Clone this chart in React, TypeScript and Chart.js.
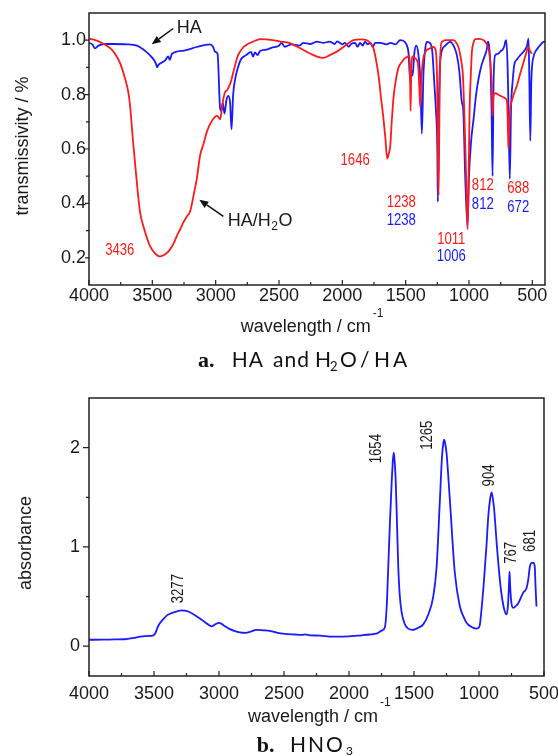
import { useEffect, useRef } from "react";
import { Chart, registerables } from "chart.js";
Chart.register(...registerables);

// ---------- (a) HA and H2O/HA : transmissivity ----------
const waterHaWavenumber = [
  4000, 3950, 3900, 3860, 3820, 3781, 3750, 3716, 3690, 3676, 3652, 3623, 3597, 3570, 3544, 3520, 3494, 3465, 3439, 3410,
  3385, 3360, 3330, 3307, 3280, 3255, 3230, 3202, 3170, 3149, 3123, 3095, 3070, 3040, 3018, 2991, 2975, 2965, 2950, 2939,
  2925, 2912, 2895, 2878, 2860, 2840, 2823, 2807, 2780, 2754, 2704, 2649, 2550, 2491, 2420, 2359, 2300, 2250, 2200, 2151,
  2100, 2043, 1991, 1950, 1912, 1850, 1806, 1780, 1754, 1735, 1714, 1695, 1675, 1660, 1646, 1635, 1622, 1610, 1596, 1575,
  1556, 1530, 1504, 1480, 1470, 1465, 1461, 1456, 1445, 1430, 1417, 1400, 1392, 1385, 1378, 1365, 1340, 1306, 1280, 1262,
  1252, 1246, 1240, 1234, 1226, 1214, 1180, 1122, 1100, 1080, 1060, 1048, 1030, 1020, 1011, 1003, 995, 985, 977, 965,
  951, 920, 885, 865, 846, 832, 824, 818, 814, 810, 806, 790, 770, 750, 727, 710, 700, 695, 690, 687,
  682, 674, 660, 640, 621, 600, 575, 550, 530, 518, 503,
];
const waterHaTransmissivity = [
  1.006, 1.0, 0.99, 0.98, 0.965, 0.94, 0.91, 0.86, 0.81, 0.76, 0.626, 0.48, 0.368, 0.315, 0.275, 0.245, 0.225, 0.21, 0.205, 0.21,
  0.218, 0.231, 0.255, 0.28, 0.305, 0.33, 0.35, 0.37, 0.44, 0.49, 0.576, 0.62, 0.663, 0.695, 0.711, 0.723, 0.715, 0.709, 0.75, 0.785,
  0.81, 0.815, 0.83, 0.85, 0.884, 0.92, 0.945, 0.958, 0.975, 0.984, 0.995, 1.004, 1.0, 0.995, 0.99, 0.977, 0.962, 0.95, 0.94, 0.935,
  0.945, 0.958, 0.975, 0.99, 1.0, 1.003, 1.0, 0.99, 0.97, 0.93, 0.87, 0.79, 0.71, 0.64, 0.565, 0.58, 0.61, 0.7, 0.79, 0.86,
  0.9, 0.92, 0.935, 0.94, 0.945, 0.85, 0.74, 0.88, 0.94, 0.935, 0.93, 0.9, 0.82, 0.754, 0.84, 0.92, 0.96, 0.97, 0.975, 0.96,
  0.85, 0.6, 0.43, 0.7, 0.95, 0.994, 1.0, 1.0, 0.99, 0.97, 0.92, 0.87, 0.626, 0.45, 0.305, 0.5, 0.75, 0.88, 0.958, 0.99,
  1.004, 1.005, 1.0, 0.99, 0.97, 0.92, 0.87, 0.8, 0.723, 0.77, 0.8, 0.805, 0.8, 0.795, 0.79, 0.785, 0.773, 0.72, 0.62, 0.6,
  0.68, 0.748, 0.78, 0.81, 0.834, 0.87, 0.91, 0.95, 0.975, 0.96, 0.95,
];
const haWavenumber = [
  4000, 3975, 3953, 3925, 3880, 3800, 3700, 3621, 3560, 3500, 3470, 3463, 3450, 3400, 3375, 3362, 3345, 3250, 3150, 3044,
  3020, 3005, 2985, 2965, 2955, 2945, 2930, 2915, 2900, 2886, 2875, 2862, 2845, 2833, 2800, 2760, 2740, 2720, 2705, 2690,
  2670, 2650, 2600, 2560, 2500, 2480, 2455, 2400, 2340, 2309, 2250, 2200, 2150, 2100, 2060, 2041, 2000, 1980, 1950, 1930,
  1900, 1880, 1860, 1840, 1820, 1800, 1780, 1760, 1740, 1700, 1650, 1620, 1580, 1543, 1510, 1490, 1478, 1464, 1455, 1445,
  1432, 1417, 1400, 1385, 1372, 1360, 1345, 1333, 1310, 1290, 1275, 1262, 1250, 1246, 1240, 1232, 1220, 1188, 1148, 1122,
  1096, 1075, 1057, 1045, 1030, 1012, 1000, 985, 964, 944, 924, 900, 885, 858, 850, 842, 830, 822, 814, 806,
  793, 770, 750, 735, 720, 714, 705, 695, 688, 678, 668, 655, 643, 620, 595, 565, 542, 530, 524, 516,
  508, 490, 477, 450, 411, 400,
];
const haTransmissivity = [
  0.99, 0.985, 0.97, 0.98, 0.986, 0.986, 0.985, 0.98, 0.962, 0.935, 0.912, 0.9, 0.91, 0.925, 0.94, 0.928, 0.95, 0.962, 0.975, 0.985,
  0.975, 0.958, 0.95, 0.75, 0.74, 0.77, 0.73, 0.78, 0.795, 0.77, 0.672, 0.8, 0.86, 0.885, 0.93, 0.945, 0.952, 0.957, 0.94, 0.955,
  0.945, 0.96, 0.965, 0.972, 0.98, 0.99, 0.976, 0.985, 0.98, 0.99, 0.986, 0.995, 0.99, 0.995, 0.986, 0.996, 0.985, 0.99, 0.976, 0.986,
  0.99, 0.976, 0.99, 0.98, 0.995, 0.985, 0.99, 0.976, 0.99, 0.99, 0.985, 0.99, 0.985, 1.0, 0.995, 0.98, 0.955, 0.85, 0.89, 0.87,
  0.95, 0.98, 0.95, 0.86, 0.656, 0.87, 0.97, 0.994, 0.99, 0.96, 0.85, 0.75, 0.6, 0.406, 0.7, 0.88, 0.95, 0.98, 0.994, 0.98,
  0.945, 0.88, 0.774, 0.74, 0.5, 0.317, 0.5, 0.62, 0.71, 0.8, 0.86, 0.91, 0.93, 0.97, 0.995, 0.98, 0.9, 0.75, 0.5, 0.85,
  0.945, 0.95, 0.96, 0.965, 0.98, 0.994, 1.0, 0.9, 0.748, 0.49, 0.75, 0.85, 0.908, 0.93, 0.945, 0.96, 0.98, 1.006, 0.87, 0.63,
  0.85, 0.94, 0.957, 0.975, 0.994, 0.995,
];

// ---------- (b) HNO3 : absorbance ----------
const hno3Wavenumber = [
  4000, 3900, 3800, 3726, 3650, 3590, 3540, 3508, 3490, 3467, 3430, 3398, 3350, 3289, 3250, 3207, 3165, 3125, 3090, 3056,
  3030, 3001, 2980, 2960, 2920, 2878, 2840, 2796, 2750, 2714, 2660, 2604, 2550, 2495, 2420, 2358, 2340, 2300, 2221, 2150,
  2085, 2000, 1948, 1900, 1840, 1784, 1745, 1724, 1710, 1698, 1685, 1672, 1662, 1655, 1648, 1640, 1630, 1621, 1610, 1595,
  1570, 1544, 1510, 1493, 1460, 1429, 1390, 1352, 1326, 1301, 1285, 1275, 1268, 1260, 1250, 1224, 1186, 1147, 1120, 1096,
  1060, 1019, 1000, 993, 963, 943, 929, 915, 903, 895, 885, 860, 834, 809, 788, 778, 770, 765, 760, 752,
  737, 720, 699, 660, 634, 620, 609, 595, 580, 571, 565, 558,
];
const hno3Absorbance = [
  0.065, 0.066, 0.068, 0.07, 0.085, 0.1, 0.105, 0.107, 0.13, 0.206, 0.27, 0.313, 0.34, 0.36, 0.355, 0.33, 0.295, 0.26, 0.225, 0.2,
  0.22, 0.235, 0.225, 0.206, 0.175, 0.153, 0.14, 0.135, 0.15, 0.165, 0.16, 0.153, 0.135, 0.125, 0.118, 0.114, 0.12, 0.11, 0.107, 0.097,
  0.096, 0.1, 0.105, 0.11, 0.118, 0.13, 0.16, 0.19, 0.4, 0.8, 1.25, 1.64, 1.88, 1.95, 1.85, 1.64, 1.2, 0.8, 0.52, 0.34,
  0.22, 0.177, 0.165, 0.17, 0.19, 0.22, 0.32, 0.5, 0.8, 1.47, 1.9, 2.04, 2.08, 2.04, 1.95, 1.47, 0.74, 0.4, 0.3, 0.237,
  0.195, 0.177, 0.19, 0.22, 0.64, 1.0, 1.3, 1.48, 1.55, 1.5, 1.4, 0.97, 0.6, 0.387, 0.32, 0.4, 0.6, 0.75, 0.6, 0.45,
  0.387, 0.4, 0.43, 0.54, 0.587, 0.68, 0.8, 0.84, 0.84, 0.8, 0.6, 0.4,
];

// ---------- ticks ----------
const xTickValues = [4000, 3500, 3000, 2500, 2000, 1500, 1000, 500];
const xMinorTickValues = [3750, 3250, 2750, 2250, 1750, 1250, 750];
const topYTickValues = [0.2, 0.4, 0.6, 0.8, 1.0];
const topYMinorTickValues = [0.3, 0.5, 0.7, 0.9];
const bottomYTickValues = [0, 1, 2];
const bottomYMinorTickValues = [0.5, 1.5];

// ---------- peak labels ----------
const topPeakTexts = ["1646", "1238", "1238", "1011", "1006", "812", "812", "688", "672", "3436"];
const topPeakSeries = ["w", "w", "h", "w", "h", "w", "h", "w", "h", "w"];
const bottomPeakTexts = ["3277", "1654", "1265", "904", "767", "681"];

// label placement (data coordinates), kept apart from the data
const topPeakPlace = [
  [1899, 0.557], [1535, 0.404], [1535, 0.335], [1140, 0.268], [1140, 0.206],
  [891, 0.465], [891, 0.394], [611, 0.456], [611, 0.386], [3757, 0.225],
];
const bottomPeakPlace = [
  [3308, 0.58], [1788, 1.99], [1397, 2.125], [916, 1.72], [749, 0.94], [603, 1.06],
];

const FONT = '"Liberation Sans", Arial, Helvetica, sans-serif';
const RED = "#ff1a1a";
const BLUE = "#1a1aff";
const TEXT = "#1a1a1a";

function frameAndTicks(chart: any, xs: number[], xm: number[], ys: number[], ym: number[], yLen: number) {
  const { ctx, chartArea: a, scales } = chart;
  ctx.save();
  ctx.strokeStyle = "#222";
  ctx.lineWidth = 1.5;
  ctx.strokeRect(a.left, a.top, a.right - a.left, a.bottom - a.top);
  ctx.lineWidth = 1.2;
  ctx.beginPath();
  xs.forEach((v) => { const x = scales.x.getPixelForValue(v); ctx.moveTo(x, a.bottom); ctx.lineTo(x, a.bottom - 5); });
  xm.forEach((v) => { const x = scales.x.getPixelForValue(v); ctx.moveTo(x, a.bottom); ctx.lineTo(x, a.bottom - 3); });
  ys.forEach((v) => { const y = scales.y.getPixelForValue(v); ctx.moveTo(a.left, y); ctx.lineTo(a.left - yLen, y); });
  ym.forEach((v) => { const y = scales.y.getPixelForValue(v); ctx.moveTo(a.left, y); ctx.lineTo(a.left - 3, y); });
  ctx.stroke();
  ctx.restore();
}

function narrowText(ctx: any, text: string, x: number, y: number, color: string, rotate: boolean) {
  ctx.save();
  ctx.translate(x, y);
  if (rotate) ctx.rotate(-Math.PI / 2);
  ctx.scale(0.82, 1);
  ctx.font = `16px ${FONT}`;
  ctx.fillStyle = color;
  ctx.textAlign = "center";
  ctx.textBaseline = "middle";
  ctx.fillText(text, 0, 0);
  ctx.restore();
}

function arrow(ctx: any, x1: number, y1: number, x2: number, y2: number) {
  ctx.save();
  ctx.strokeStyle = "#111";
  ctx.fillStyle = "#111";
  ctx.lineWidth = 1.5;
  const ang = Math.atan2(y2 - y1, x2 - x1);
  const L = 9, W = 3.8;
  const bx = x2 - L * Math.cos(ang), by = y2 - L * Math.sin(ang);
  ctx.beginPath(); ctx.moveTo(x1, y1); ctx.lineTo(bx, by); ctx.stroke();
  ctx.beginPath();
  ctx.moveTo(x2, y2);
  ctx.lineTo(bx + W * Math.sin(ang), by - W * Math.cos(ang));
  ctx.lineTo(bx - W * Math.sin(ang), by + W * Math.cos(ang));
  ctx.closePath(); ctx.fill();
  ctx.restore();
}

function xTitle(ctx: any, left: number, base: number, supBase: number) {
  ctx.save();
  ctx.fillStyle = TEXT;
  ctx.textAlign = "left";
  ctx.textBaseline = "alphabetic";
  ctx.font = `18px ${FONT}`;
  ctx.fillText("wavelength / cm", left, base);
  const w = ctx.measureText("wavelength / cm").width;
  ctx.font = `12px ${FONT}`;
  ctx.fillText("-1", left + w + 2, supBase);
  ctx.restore();
}

function yTitle(ctx: any, text: string, cx: number, cy: number) {
  ctx.save();
  ctx.translate(cx, cy);
  ctx.rotate(-Math.PI / 2);
  ctx.fillStyle = TEXT;
  ctx.font = `18px ${FONT}`;
  ctx.textAlign = "center";
  ctx.textBaseline = "middle";
  ctx.fillText(text, 0, 0);
  ctx.restore();
}

const CAP_FONT = '"Lato", "Open Sans", sans-serif';
function capText(ctx: any, t: string, x: number, y: number, size: number, spacing: number) {
  ctx.font = `${size}px ${CAP_FONT}`;
  (ctx as any).letterSpacing = `${spacing}px`;
  ctx.fillText(t, x, y);
}

const topDecor = {
  id: "topDecor",
  afterDraw(chart: any) {
    const { ctx, scales } = chart;
    const X = (v: number) => scales.x.getPixelForValue(v);
    const Y = (v: number) => scales.y.getPixelForValue(v);
    frameAndTicks(chart, xTickValues, xMinorTickValues, topYTickValues, topYMinorTickValues, 4);
    topPeakTexts.forEach((t, i) => {
      const [v, y] = topPeakPlace[i];
      narrowText(ctx, t, X(v), Y(y), topPeakSeries[i] === "w" ? RED : BLUE, false);
    });
    // notes and arrows
    ctx.save();
    ctx.fillStyle = TEXT;
    ctx.textAlign = "left";
    ctx.textBaseline = "alphabetic";
    ctx.font = `18px ${FONT}`;
    ctx.fillText("HA", X(3307), Y(1.049) + 6.5);
    const hx = X(2904), hy = Y(0.342) + 6.5;
    ctx.fillText("HA/H", hx, hy);
    const w1 = ctx.measureText("HA/H").width;
    ctx.font = `12px ${FONT}`;
    ctx.fillText("2", hx + w1 + 0.5, hy + 4);
    const w2 = ctx.measureText("2").width;
    ctx.font = `18px ${FONT}`;
    ctx.fillText("O", hx + w1 + w2 + 1, hy);
    ctx.restore();
    arrow(ctx, X(3335), Y(1.043), X(3505), Y(0.985));
    arrow(ctx, X(2939), Y(0.352), X(3129), Y(0.413));
    yTitle(ctx, "transmissivity / %", 23, 146);
    xTitle(ctx, 240.7, 331.5, 317);
    // caption
    ctx.save();
    ctx.fillStyle = "#111";
    ctx.textBaseline = "alphabetic";
    ctx.textAlign = "left";
    ctx.font = `bold 22px "Liberation Serif", serif`;
    ctx.fillText("a.", 198, 366.7);
    capText(ctx, "HA", 231.7, 366.7, 21, 1);
    capText(ctx, "and", 273, 366.7, 21, 1);
    capText(ctx, "H", 315, 366.7, 21, 0);
    capText(ctx, "2", 330, 371, 13, 0);
    capText(ctx, "O", 340, 366.7, 21, 0);
    capText(ctx, "/", 360, 366.7, 21, 0);
    capText(ctx, "HA", 374, 366.7, 21, 3);
    ctx.restore();
  },
};

const bottomDecor = {
  id: "bottomDecor",
  afterDraw(chart: any) {
    const { ctx, scales } = chart;
    const X = (v: number) => scales.x.getPixelForValue(v);
    const Y = (v: number) => scales.y.getPixelForValue(v);
    frameAndTicks(chart, xTickValues, xMinorTickValues, bottomYTickValues, bottomYMinorTickValues, 6);
    bottomPeakTexts.forEach((t, i) => {
      const [v, y] = bottomPeakPlace[i];
      narrowText(ctx, t, X(v), Y(y), TEXT, true);
    });
    yTitle(ctx, "absorbance", 26, 163);
    xTitle(ctx, 248, 342, 326);
    ctx.save();
    ctx.fillStyle = "#111";
    ctx.textBaseline = "alphabetic";
    ctx.textAlign = "left";
    ctx.font = `bold 22px "Liberation Serif", serif`;
    ctx.fillText("b.", 256.7, 371.7);
    capText(ctx, "HNO", 290, 371.7, 21, 2);
    capText(ctx, "3", 346, 375, 12, 0);
    ctx.restore();
  },
};

function pts(xs: number[], ys: number[]) {
  return xs.map((x, i) => ({ x, y: ys[i] }));
}

function makeConfig(opts: any): any {
  return {
    type: "line",
    data: { datasets: opts.datasets },
    options: {
      animation: false,
      responsive: false,
      events: [],
      layout: { padding: opts.padding },
      plugins: { legend: { display: false }, tooltip: { enabled: false }, title: { display: false } },
      elements: { point: { radius: 0 }, line: { cubicInterpolationMode: "monotone", borderWidth: 1.8 } },
      scales: {
        x: {
          type: "linear",
          reverse: true,
          min: opts.xMin,
          max: 4000,
          grid: { display: false, drawTicks: false },
          border: { display: false },
          afterBuildTicks: (s: any) => { s.ticks = xTickValues.map((value) => ({ value })); },
          afterFit: (s: any) => { s.height = opts.xHeight; s.paddingLeft = 0; s.paddingRight = 0; },
          ticks: {
            autoSkip: false, maxRotation: 0, minRotation: 0, padding: opts.xPad, color: TEXT,
            font: { family: FONT, size: 18 },
            callback: (v: any) => String(v),
          },
        },
        y: {
          type: "linear",
          min: opts.yMin,
          max: opts.yMax,
          grid: { display: false, drawTicks: false },
          border: { display: false },
          afterBuildTicks: (s: any) => { s.ticks = opts.yTicks.map((value: number) => ({ value })); },
          afterFit: (s: any) => { s.width = 89; s.paddingTop = 0; s.paddingBottom = 0; },
          ticks: {
            autoSkip: false, padding: opts.yPad, color: TEXT,
            font: { family: FONT, size: 18 },
            callback: opts.yFormat,
          },
        },
      },
    },
    plugins: [opts.plugin],
  };
}

export default function App() {
  const topRef = useRef<HTMLCanvasElement>(null);
  const bottomRef = useRef<HTMLCanvasElement>(null);
  useEffect(() => {
    const top = new Chart(
      topRef.current!,
      makeConfig({
        datasets: [
          { data: pts(waterHaWavenumber, waterHaTransmissivity), borderColor: RED, borderWidth: 1.8, pointRadius: 0, cubicInterpolationMode: "monotone" },
          { data: pts(haWavenumber, haTransmissivity), borderColor: BLUE, borderWidth: 1.8, pointRadius: 0, cubicInterpolationMode: "monotone" },
        ],
        padding: { left: 0, top: 13, right: 13, bottom: 0 },
        xMin: 400, xHeight: 95, xPad: 0,
        yMin: 0.1, yMax: 1.1, yTicks: topYTickValues, yPad: 3,
        yFormat: (v: any) => Number(v).toFixed(1),
        plugin: topDecor,
      })
    );
    const bottom = new Chart(
      bottomRef.current!,
      makeConfig({
        datasets: [
          { data: pts(hno3Wavenumber, hno3Absorbance), borderColor: BLUE, borderWidth: 1.8, pointRadius: 0, cubicInterpolationMode: "monotone" },
        ],
        padding: { left: 0, top: 18, right: 14, bottom: 0 },
        xMin: 500, xHeight: 80, xPad: 7,
        yMin: -0.3, yMax: 2.5, yTicks: bottomYTickValues, yPad: 9,
        yFormat: (v: any) => String(v),
        plugin: bottomDecor,
      })
    );
    return () => { top.destroy(); bottom.destroy(); };
  }, []);
  return (
    <div style={{ position: "absolute", left: 0, top: 0, width: 558, height: 756, background: "#fff" }}>
      <canvas ref={topRef} width={558} height={380} style={{ position: "absolute", left: 0, top: 0, width: 558, height: 380 }} />
      <canvas ref={bottomRef} width={558} height={376} style={{ position: "absolute", left: 0, top: 380, width: 558, height: 376 }} />
    </div>
  );
}
